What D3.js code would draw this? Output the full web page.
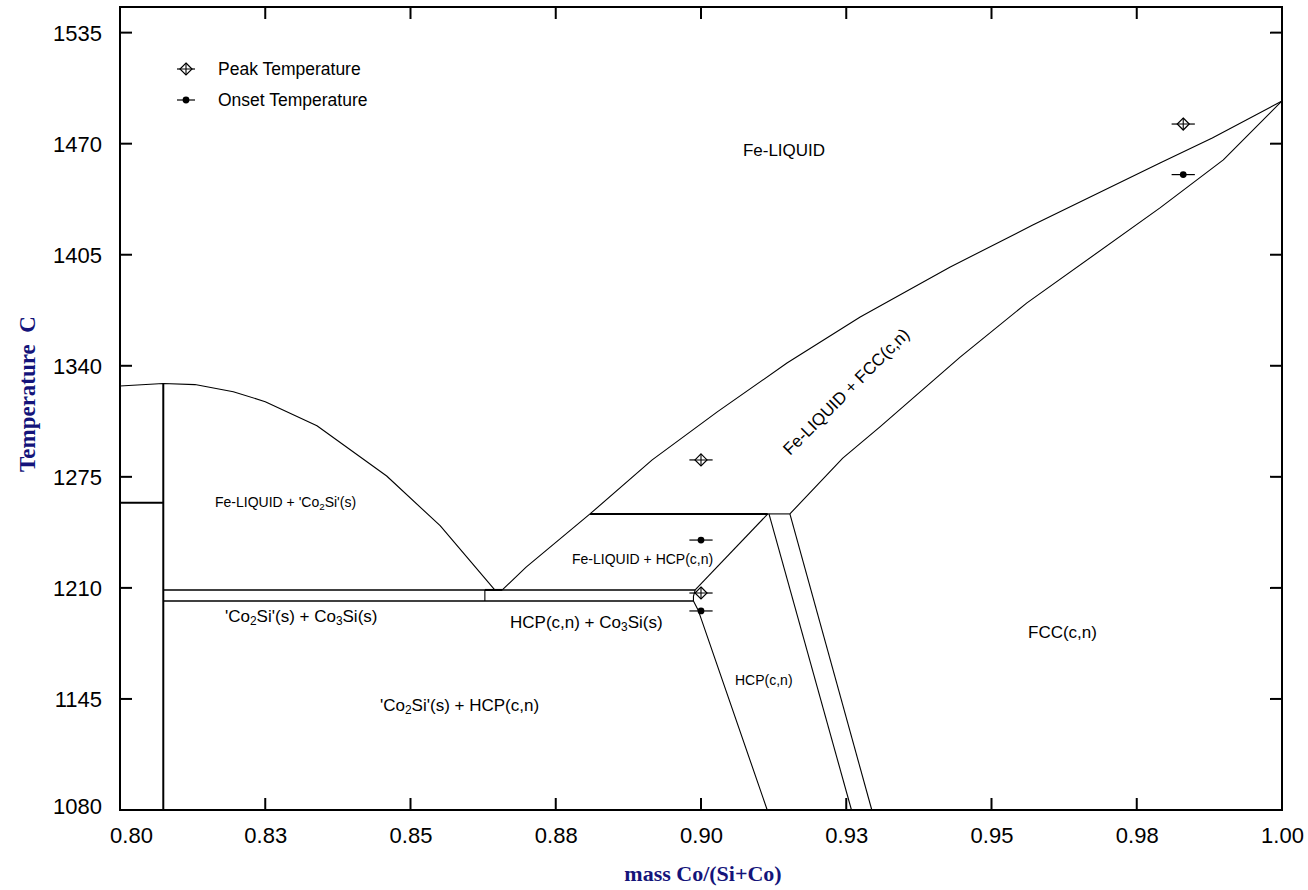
<!DOCTYPE html>
<html>
<head>
<meta charset="utf-8">
<script src="https://cdn.jsdelivr.net/npm/d3@7"></script>
<style>
  html, body { margin: 0; padding: 0; background: #fff; }
  svg { display: block; }
</style>
</head>
<body>
<svg id="chart" width="1308" height="890"></svg>
<script>
// ---- Axis ticks ----
const xTicks = [0.800, 0.825, 0.850, 0.875, 0.900, 0.925, 0.950, 0.975, 1.000];
const xTickLabels = ["0.80", "0.83", "0.85", "0.88", "0.90", "0.93", "0.95", "0.98", "1.00"];
const yTicks = [1080, 1145, 1210, 1275, 1340, 1405, 1470, 1535];

// ---- Phase boundaries: [mass Co/(Si+Co), T in C] ----
const co2siLiquidus = [[0.8000, 1328.2], [0.80745, 1329.6], [0.8129, 1329.0], [0.8195, 1324.8],
  [0.8250, 1319.0], [0.8339, 1304.9], [0.8459, 1275.5], [0.8551, 1246.4], [0.8645, 1208.8]];
const fccLiquidus = [[0.8658, 1208.8], [0.8699, 1222.2], [0.8809, 1253.3], [0.8916, 1284.9],
  [0.9028, 1313.0], [0.9148, 1341.6], [0.9274, 1368.6], [0.9429, 1397.8], [0.9571, 1422.4],
  [0.9790, 1458.7], [0.9880, 1473.3], [1.0000, 1495.0]];
const fccSolidus = [[0.9153, 1253.3], [0.9244, 1286.0], [0.9308, 1304.2], [0.9446, 1345.1],
  [0.9561, 1376.8], [0.9790, 1432.4], [0.9899, 1460.5], [1.0000, 1495.0]];
const hcpLiquidus = [[0.9115, 1253.3], [0.8990, 1208.8]];
const hcpSolvus = [[0.8990, 1208.8], [0.8987, 1205.0], [0.8987, 1202.3], [0.8995, 1197.1], [0.9114, 1080]];
const hcpFccLeft = [[0.9117, 1253.3], [0.9259, 1080]];
const hcpFccRight = [[0.9153, 1253.3], [0.9294, 1080]];
const co2siLine = [[0.80745, 1080], [0.80745, 1329.6]];
const co2siTransition = [[0.8000, 1259.9], [0.80745, 1259.9]];
const eutecticUpper = [[0.80745, 1208.8], [0.8990, 1208.8]];
const eutecticLower = [[0.80745, 1202.3], [0.8987, 1202.3]];
const co3siEdge = [[0.8628, 1202.3], [0.8628, 1208.8]];
const eutecticJoin = [[0.8628, 1208.8], [0.8658, 1208.8]];
const peritecticLine = [[0.8809, 1253.3], [0.9115, 1253.3]];
const peritecticEnd = [[0.9115, 1253.3], [0.9153, 1253.3]];

// ---- Measured thermal arrests ----
const peakX = [0.900, 0.900, 0.983];
const peakT = [1284.9, 1207.0, 1481.5];
const onsetX = [0.900, 0.900, 0.983];
const onsetT = [1238.0, 1196.5, 1451.9];
const compErr = 0.002;

const legendLabels = ["Peak Temperature", "Onset Temperature"];

// ---- Layout ----
const svg = d3.select("#chart");
const plotLeft = 120, plotRight = 1282, plotTop = 7, plotBottom = 810;
const x = d3.scaleLinear().domain([0.8, 1.0]).range([plotLeft, plotRight]);
const y = d3.scaleLinear().domain([1080, 1550]).range([plotBottom, plotTop]);
const sans = "'Liberation Sans', Arial, sans-serif";
const serif = "'Liberation Serif', 'Times New Roman', serif";

const line = d3.line().x(d => x(d[0])).y(d => y(d[1]));
const plot = svg.append("g");

function boundary(pts, w) {
  plot.append("path").attr("d", line(pts)).attr("fill", "none")
    .attr("stroke", "#000").attr("stroke-width", w).attr("stroke-linejoin", "round");
}
[co2siLiquidus, fccLiquidus, fccSolidus, hcpLiquidus, hcpSolvus, hcpFccLeft, hcpFccRight,
 peritecticEnd, co3siEdge].forEach(p => boundary(p, 1.1));
[eutecticUpper, eutecticLower].forEach(p => boundary(p, 1.5));
[co2siLine, co2siTransition, peritecticLine, eutecticJoin].forEach(p => boundary(p, 2));

// ---- Axes (ticks inside on all four sides) ----
const tickLen = 12;
const axes = svg.append("g").attr("stroke", "#000").attr("stroke-width", 2);
xTicks.forEach(v => {
  axes.append("line").attr("x1", x(v)).attr("x2", x(v)).attr("y1", plotBottom).attr("y2", plotBottom - tickLen);
  axes.append("line").attr("x1", x(v)).attr("x2", x(v)).attr("y1", plotTop).attr("y2", plotTop + tickLen);
});
yTicks.forEach(v => {
  axes.append("line").attr("x1", plotLeft).attr("x2", plotLeft + tickLen).attr("y1", y(v)).attr("y2", y(v));
  axes.append("line").attr("x1", plotRight).attr("x2", plotRight - tickLen).attr("y1", y(v)).attr("y2", y(v));
});
svg.append("rect").attr("x", plotLeft).attr("y", plotTop)
  .attr("width", plotRight - plotLeft).attr("height", plotBottom - plotTop)
  .attr("fill", "none").attr("stroke", "#000").attr("stroke-width", 2);

// tick labels; the corner labels are nudged apart so they do not collide
const xAxis = d3.axisBottom(x).tickValues(xTicks).tickSize(0).tickPadding(0)
  .tickFormat((d, i) => xTickLabels[i]);
const gx = svg.append("g").attr("transform", `translate(0,${plotBottom})`).call(xAxis);
gx.select(".domain").remove();
gx.selectAll("text").attr("font-family", sans).attr("font-size", 22).attr("fill", "#000")
  .attr("dy", 0).attr("y", 33).attr("x", (d, i) => i === 0 ? 11 : 0);

const yAxis = d3.axisLeft(y).tickValues(yTicks).tickSize(0).tickPadding(0).tickFormat(d3.format("d"));
const gy = svg.append("g").attr("transform", `translate(${plotLeft - 18},0)`).call(yAxis);
gy.select(".domain").remove();
gy.selectAll("text").attr("font-family", sans).attr("font-size", 22).attr("fill", "#000")
  .attr("x", 0).attr("dy", "0.36em").attr("y", (d, i) => i === 0 ? -4 : 0);

// ---- Axis titles ----
svg.append("text").attr("x", 703).attr("y", 881).attr("text-anchor", "middle")
  .attr("font-family", serif).attr("font-weight", "bold").attr("font-size", 22)
  .attr("fill", "#14147a").text("mass Co/(Si+Co)");
svg.append("text").attr("transform", "translate(35,394) rotate(-90)").attr("text-anchor", "middle")
  .attr("font-family", serif).attr("font-weight", "bold").attr("font-size", 23)
  .attr("fill", "#14147a").attr("xml:space", "preserve").text("Temperature  C");

// ---- Markers ----
function peakMarker(g, cx, cy, halfBar) {
  g.append("line").attr("x1", cx - halfBar).attr("x2", cx + halfBar).attr("y1", cy).attr("y2", cy)
    .attr("stroke", "#000").attr("stroke-width", 1.2);
  const s = 6;
  g.append("path").attr("d", `M${cx},${cy - s}L${cx + s},${cy}L${cx},${cy + s}L${cx - s},${cy}Z`)
    .attr("fill", "#fff").attr("stroke", "#000").attr("stroke-width", 1.2);
  g.append("path").attr("d", `M${cx - s},${cy}H${cx + s}M${cx},${cy - s}V${cy + s}`)
    .attr("stroke", "#000").attr("stroke-width", 1.1);
}
function onsetMarker(g, cx, cy, halfBar) {
  g.append("line").attr("x1", cx - halfBar).attr("x2", cx + halfBar).attr("y1", cy).attr("y2", cy)
    .attr("stroke", "#000").attr("stroke-width", 1.2);
  g.append("circle").attr("cx", cx).attr("cy", cy).attr("r", 3.4).attr("fill", "#000");
}
const marks = svg.append("g");
peakX.forEach((v, i) => peakMarker(marks, x(v), y(peakT[i]), x(v + compErr) - x(v)));
onsetX.forEach((v, i) => onsetMarker(marks, x(v), y(onsetT[i]), x(v + compErr) - x(v)));

// ---- Legend ----
const legend = svg.append("g");
peakMarker(legend, 186, 69, 9);
onsetMarker(legend, 186, 100, 9);
legend.selectAll("text.lg").data(legendLabels).join("text").attr("class", "lg")
  .attr("x", 218).attr("y", (d, i) => 75 + i * 31)
  .attr("font-family", sans).attr("font-size", 17.5).attr("fill", "#000").text(d => d);

// ---- Region labels ----
const labels = svg.append("g").attr("font-family", sans).attr("fill", "#000");
function label(px, py, size, parts, anchor, rot) {
  const t = labels.append("text").attr("font-size", size).attr("text-anchor", anchor || "start")
    .attr("xml:space", "preserve");
  if (rot) t.attr("transform", `translate(${px},${py}) rotate(${rot})`);
  else t.attr("x", px).attr("y", py);
  parts.forEach(p => {
    const s = t.append("tspan").text(p[0]);
    if (p[1] === "sub") s.attr("font-size", size * 0.7).attr("baseline-shift", "-25%");
  });
}
label(784, 156, 17, [["Fe-LIQUID"]], "middle");
label(215, 507, 14, [["Fe-LIQUID + 'Co"], ["2", "sub"], ["Si'(s)"]]);
label(225, 622, 17, [["'Co"], ["2", "sub"], ["Si'(s) + Co"], ["3", "sub"], ["Si(s)"]]);
label(510, 628, 17, [["HCP(c,n) + Co"], ["3", "sub"], ["Si(s)"]]);
label(572, 564, 14, [["Fe-LIQUID + HCP(c,n)"]]);
label(735, 685, 14, [["HCP(c,n)"]]);
label(380, 711, 17, [["'Co"], ["2", "sub"], ["Si'(s) + HCP(c,n)"]]);
label(1028, 638, 17, [["FCC(c,n)"]]);
label(790, 456, 17, [["Fe-LIQUID + FCC(c,n)"]], "start", -45);
</script>
</body>
</html>
